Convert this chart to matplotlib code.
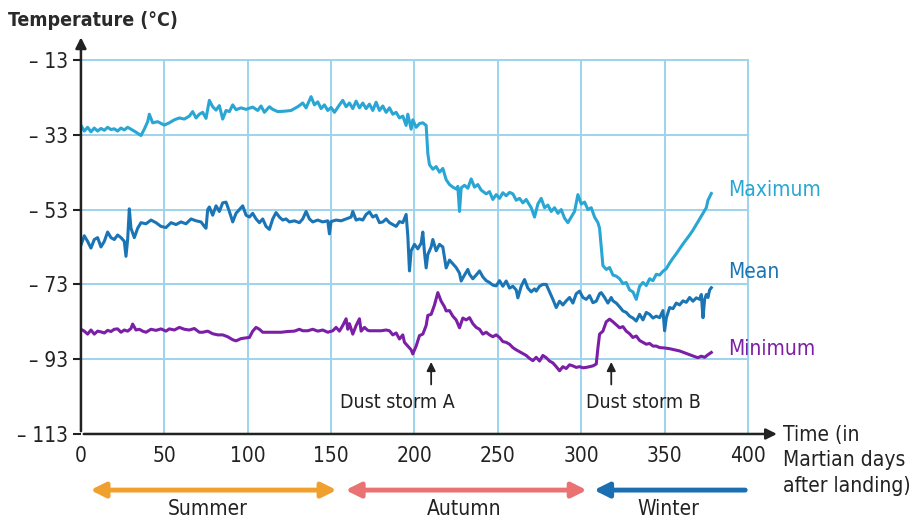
import matplotlib
matplotlib.use("Agg")
import matplotlib.pyplot as plt

plt.rcParams['font.family'] = ['DejaVu Sans']
plt.rcParams['font.stretch'] = 'condensed'

# ---- data (Martian days after landing, deg C) ----
max_days = [0, 2, 4, 6, 8, 10, 12, 14, 16, 18, 20, 22, 24, 26, 28, 30, 33, 36, 38, 40, 41, 43, 46, 50, 53, 56,
            59, 62, 65, 67, 69, 71, 73, 75, 77, 79, 81, 83, 85, 87, 89, 91, 93, 96, 99, 103, 106, 108, 110, 113,
            115, 118, 122, 126, 130, 133, 135, 138, 140, 142, 144, 146, 148, 150, 152, 155, 157, 159, 161, 163,
            165, 167, 169, 171, 173, 175, 177, 179, 181, 183, 185, 187, 189, 191, 193, 195, 196, 198, 199, 201,
            203, 205, 207, 208, 209, 211, 213, 215, 217, 219, 221, 223, 225, 226, 227, 228, 230, 232, 234, 236,
            238, 240, 243, 245, 247, 249, 251, 253, 255, 257, 259, 261, 263, 265, 267, 270, 272, 274, 276, 278,
            280, 282, 284, 286, 288, 290, 292, 294, 296, 298, 300, 302, 304, 306, 308, 310, 311, 312, 313, 315,
            317, 319, 321, 323, 325, 327, 329, 331, 333, 335, 337, 339, 341, 343, 345, 347, 349, 351, 353, 355,
            357, 359, 361, 363, 365, 367, 369, 371, 373, 375, 376, 378]
max_temp = [-30.5, -32, -31, -32.2, -31.2, -32, -31.3, -31.8, -31, -31.6, -31.4, -32, -31.2, -31.7, -31, -31.5,
            -32.3, -33.2, -31.5, -29.5, -27.5, -29.8, -29.5, -30.4, -29.8, -29, -28.5, -28.8, -28, -26.8, -28.5,
            -27.5, -27, -28.6, -23.8, -25.5, -26.4, -25.2, -28.8, -26.5, -26.8, -25, -26.3, -25.8, -26.2, -25.6,
            -26.5, -25.3, -27, -25.5, -26.2, -26.8, -26.7, -26.5, -25.5, -24.5, -25.8, -22.8, -25, -24.2, -26,
            -25, -26.5, -25.7, -27, -25, -23.8, -25.5, -24.5, -26, -24, -25.8, -24.5, -26, -24.8, -26.5, -24.3,
            -26.5, -25.3, -27, -25.8, -27.5, -27, -28.5, -28, -30.5, -27.5, -31.5, -29, -31, -30, -29.8, -30.5,
            -38, -41, -42.2, -41.5, -43, -42, -45, -46.3, -47, -47.5, -46.8, -53.5, -47.2, -46.5, -47.3, -44.8,
            -47, -46.3, -47.8, -48.8, -48.2, -50.3, -49, -50, -48.5, -49.3, -48.4, -48.8, -50.5, -50, -51.2,
            -50.3, -52.5, -55, -51.5, -50, -52.5, -51.8, -53.5, -52.5, -54, -53, -55.3, -56.5, -55, -53.5, -49,
            -51.5, -51, -53, -52.5, -55, -56.5, -58, -63, -68, -69, -68.5, -70.5, -70.8, -71.5, -72.8, -72.5,
            -74.5, -75, -77, -73.5, -72.5, -73.3, -71.5, -72, -70.3, -70.5, -69.5, -68.8, -67.3, -66, -64.8,
            -63.5, -62.2, -61, -59.8, -58.5, -57, -55.5, -54, -52.5, -50.5, -48.7]

mean_days = [0, 2, 4, 6, 8, 10, 12, 14, 16, 18, 20, 22, 24, 26, 27, 28, 29, 30, 32, 34, 36, 39, 42, 45, 48, 51,
             54, 57, 60, 63, 66, 69, 72, 74, 75, 76, 77, 79, 81, 83, 85, 87, 89, 91, 93, 95, 97, 99, 101, 103,
             105, 107, 109, 111, 113, 115, 117, 119, 121, 123, 125, 128, 131, 133, 135, 137, 139, 142, 145, 148,
             149, 150, 153, 156, 159, 162, 163, 165, 167, 169, 171, 173, 175, 177, 179, 181, 183, 185, 187, 189,
             191, 193, 195, 196, 197, 198, 200, 202, 204, 205, 206, 207, 208, 210, 211, 213, 215, 217, 219, 221,
             223, 225, 227, 228, 230, 232, 233, 235, 237, 239, 241, 243, 245, 247, 249, 251, 253, 255, 257, 259,
             261, 262, 264, 266, 268, 270, 272, 273, 275, 277, 279, 281, 283, 285, 287, 289, 291, 293, 295, 297,
             299, 301, 303, 305, 307, 309, 311, 312, 314, 316, 318, 319, 321, 323, 325, 327, 329, 331, 333, 335,
             337, 339, 341, 343, 345, 347, 349, 350, 351, 353, 355, 357, 359, 361, 363, 365, 367, 369, 371, 372,
             373, 374, 375, 376, 377, 378]
mean_temp = [-62.5, -60, -61.5, -63.3, -61, -60.5, -63, -61.5, -59, -60.5, -61, -59.8, -60.5, -61.5, -65.5, -61,
             -52.8, -58, -60.5, -58, -56.5, -56.8, -55.8, -56.5, -57.5, -57.8, -56.5, -57, -56.3, -56.8, -55.5,
             -56, -56.3, -57.5, -58, -53, -52.3, -54.5, -52, -53.5, -51.2, -51, -53.5, -56.3, -54, -53, -52,
             -54.5, -55, -54, -55.5, -56.5, -55.5, -57.5, -58.3, -55.5, -53.8, -55, -55.8, -55.5, -56.3, -56,
             -56.5, -55.5, -53.5, -55.5, -56.3, -55.8, -56.3, -56, -59.5, -56.2, -55.8, -56, -55.5, -55, -53.5,
             -55.8, -55.5, -55.8, -54.3, -53.6, -55, -54.5, -56.5, -56.3, -55.5, -56.5, -57, -57.5, -56.2, -56.5,
             -54.3, -60, -69.4, -64, -62.3, -63.5, -62, -59, -64.5, -68.6, -65, -63, -61, -64, -62.3, -63, -68.6,
             -66.5, -67.5, -68.5, -70, -72.1, -70.5, -69, -70.3, -71.5, -70.5, -69.4, -71, -72, -72.5, -73.2,
             -73.4, -72, -73.5, -72.1, -74, -73.5, -74.5, -76.6, -73.5, -71.7, -74, -75, -74.2, -74.8, -73.5, -73,
             -73, -75, -77, -79.2, -77.5, -78.5, -77.4, -76.5, -78, -75.5, -74.8, -76.5, -77, -76, -77.9, -77.5,
             -75.5, -75.2, -76.5, -78, -76.5, -77.4, -78, -79, -80.1, -80.5, -81.5, -82, -82.8, -81, -82.5, -80.5,
             -81, -82, -81.5, -81.9, -80, -85.4, -82, -79.2, -79.5, -78, -78.5, -77.4, -77.8, -76.5, -77.5, -76.6,
             -77, -75.7, -81.9, -77, -75.7, -76.5, -74.5, -73.9]

min_days = [0, 2, 4, 6, 8, 10, 12, 14, 16, 18, 20, 22, 24, 26, 28, 30, 31, 33, 35, 37, 39, 42, 45, 48, 51, 53,
            56, 59, 62, 65, 68, 71, 73, 76, 79, 82, 85, 88, 91, 93, 96, 99, 101, 103, 105, 107, 109, 112, 116,
            120, 124, 128, 131, 133, 136, 139, 142, 145, 148, 151, 153, 155, 157, 159, 160, 161, 163, 165, 167,
            168, 170, 172, 173, 176, 180, 183, 185, 187, 189, 191, 193, 194, 196, 198, 199, 201, 203, 205, 207,
            208, 210, 212, 214, 216, 218, 219, 221, 223, 225, 227, 229, 231, 233, 235, 237, 239, 241, 243, 245,
            247, 249, 251, 253, 255, 257, 259, 261, 263, 265, 267, 269, 271, 273, 275, 277, 279, 281, 283, 285,
            287, 289, 291, 293, 295, 297, 299, 301, 303, 305, 307, 309, 310, 311, 313, 315, 317, 319, 321, 323,
            325, 327, 329, 331, 333, 335, 337, 339, 341, 343, 345, 347, 350, 353, 356, 359, 362, 365, 368, 370,
            372, 374, 376, 378]
min_temp = [-85, -85.5, -86.3, -85.2, -86.3, -85.5, -85.7, -86, -85.3, -85.6, -85, -84.9, -85.8, -85.2, -85.5,
            -84.8, -83.6, -85.2, -85, -85.5, -85.8, -85, -85.3, -84.9, -85.5, -84.9, -85.2, -84.5, -85, -85.2,
            -84.8, -85.8, -85.8, -85.5, -86.2, -86.5, -86.5, -87, -87.8, -88.1, -87.5, -87.3, -87.2, -85.5,
            -84.5, -85, -85.8, -85.8, -85.8, -85.8, -85.6, -85.5, -85, -85.4, -85.4, -85, -85.5, -85.2, -85.8,
            -85.4, -84.5, -85.5, -84, -82.2, -85, -83.5, -86.3, -84, -82.2, -85.5, -84.5, -85.3, -85.4, -85.4,
            -85.4, -85.2, -85.4, -86.5, -86, -87.6, -86.5, -88.5, -89.5, -90.5, -91.6, -89.5, -86.7, -86.3, -84,
            -81.3, -81, -78.5, -75.2, -77.5, -79, -80.1, -80, -81.5, -82.5, -84.6, -82, -82.5, -81.9, -83.5,
            -84.5, -85, -86.3, -85.8, -86.5, -87, -86.5, -87.2, -88.3, -88.5, -89, -89.9, -90.5, -91, -91.5,
            -92, -92.8, -93.4, -92.5, -93.5, -92, -92.6, -93.5, -94, -95, -96.1, -95, -95.5, -94.5, -94.8, -95.2,
            -95, -95.3, -95.2, -95, -94.8, -94.3, -90, -86.3, -85.5, -83, -82.3, -83, -83.8, -84.6, -84.3, -85.5,
            -86.2, -87.2, -86.8, -88, -88.5, -89, -88.8, -89.5, -89.5, -89.9, -90, -90.2, -90.5, -90.8, -91.3,
            -91.8, -92.3, -92.6, -92.2, -92.5, -91.8, -91.2]

x_ticks = [0, 50, 100, 150, 200, 250, 300, 350, 400]
y_ticks = [-113, -93, -73, -53, -33, -13]
y_labels = ['– 113', '– 93', '– 73', '– 53', '– 33', '– 13']

c_max = '#29a6d3'
c_mean = '#1b75b5'
c_min = '#7b1fa6'

fig = plt.figure(figsize=(9.23, 5.18), dpi=100)
ax = fig.add_axes([0.0877, 0.1622, 0.7227, 0.722])
ax.set_xlim(0, 400)
ax.set_ylim(-113, -13)

# grid
for x in x_ticks[1:]:
    ax.axvline(x, color='#9dd4ec', lw=1.4, zorder=1, clip_on=False)
for y in y_ticks[1:]:
    ax.axhline(y, color='#9dd4ec', lw=1.4, zorder=1, clip_on=False)

ax.plot(max_days, max_temp, color=c_max, lw=2.2, zorder=3)
ax.plot(mean_days, mean_temp, color=c_mean, lw=2.2, zorder=3)
ax.plot(min_days, min_temp, color=c_min, lw=2.2, zorder=3)

for s in ax.spines.values():
    s.set_visible(False)

ax.set_xticks(x_ticks)
ax.set_xticklabels([str(v) for v in x_ticks], fontsize=15, color='#222222')
ax.set_yticks(y_ticks)
ax.set_yticklabels(y_labels, fontsize=15, color='#222222')
ax.tick_params(axis='x', length=0, pad=9)
ax.tick_params(axis='y', length=6, width=1.5, pad=3, color='#222222')

# axis lines with arrow heads
ax.annotate('', xy=(419, -113), xytext=(0, -113), annotation_clip=False,
            arrowprops=dict(arrowstyle='-|>', color='#222222', lw=1.8, mutation_scale=16))
ax.annotate('', xy=(0, -6.2), xytext=(0, -113), annotation_clip=False,
            arrowprops=dict(arrowstyle='-|>', color='#222222', lw=1.8, mutation_scale=16))

fig.text(8/923, 1 - 20/518, 'Temperature (°C)', fontsize=14, fontweight='bold',
         color='#2a2a2a', va='center', ha='left')
ax.text(421, -110.5, 'Time (in\nMartian days\nafter landing)', fontsize=15, color='#222222',
        ha='left', va='top', linespacing=1.35, clip_on=False)

# series labels
ax.text(388, -47.8, 'Maximum', color=c_max, fontsize=15, va='center', clip_on=False)
ax.text(388, -69.7, 'Mean', color=c_mean, fontsize=15, va='center', clip_on=False)
ax.text(388, -90.3, 'Minimum', color=c_min, fontsize=15, va='center', clip_on=False)

# dust storms
ax.annotate('', xy=(210, -93.0), xytext=(210, -100.5), annotation_clip=False,
            arrowprops=dict(arrowstyle='-|>', color='#222222', lw=1.3, mutation_scale=13))
ax.text(190, -104.6, 'Dust storm A', fontsize=14, ha='center', va='center', color='#222222')
ax.annotate('', xy=(318, -93.0), xytext=(318, -100.5), annotation_clip=False,
            arrowprops=dict(arrowstyle='-|>', color='#222222', lw=1.3, mutation_scale=13))
ax.text(337, -104.6, 'Dust storm B', fontsize=14, ha='center', va='center', color='#222222')

# seasons
ax.annotate('', xy=(155, -128), xytext=(4, -128), annotation_clip=False,
            arrowprops=dict(arrowstyle='<|-|>', color='#f0a02c', lw=3.5, mutation_scale=22))
ax.annotate('', xy=(305, -128), xytext=(157, -128), annotation_clip=False,
            arrowprops=dict(arrowstyle='<|-|>', color='#ea7272', lw=3.5, mutation_scale=22))
ax.annotate('', xy=(306, -128), xytext=(400, -128), annotation_clip=False,
            arrowprops=dict(arrowstyle='-|>', color='#1a6fb3', lw=3.5, mutation_scale=22))
ax.text(76, -133, 'Summer', fontsize=15, ha='center', va='center', color='#222222')
ax.text(230, -133, 'Autumn', fontsize=15, ha='center', va='center', color='#222222')
ax.text(352, -133, 'Winter', fontsize=15, ha='center', va='center', color='#222222')

fig.savefig('out.png', dpi=100)
